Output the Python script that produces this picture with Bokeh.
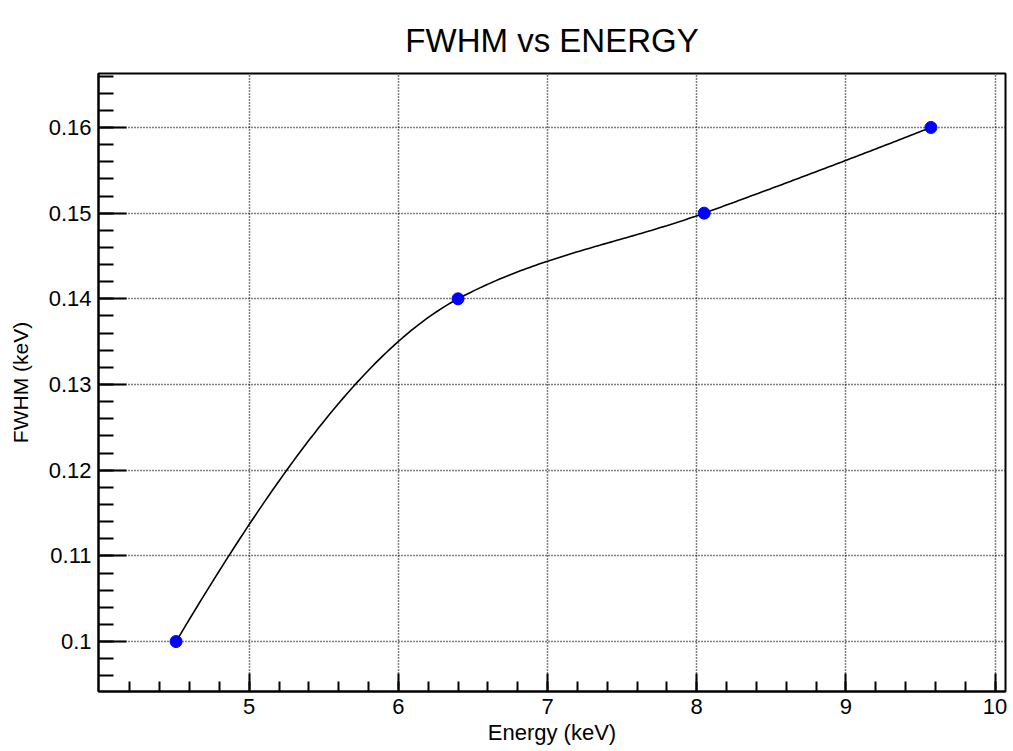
import numpy as np
from bokeh.plotting import figure
from bokeh.models import Range1d, FixedTicker
from bokeh.embed import file_html
from bokeh.resources import INLINE

# Data
energy = [4.51, 6.40, 8.05, 9.57]
fwhm = [0.100, 0.140, 0.150, 0.160]
x_ticks = [5, 6, 7, 8, 9, 10]
y_ticks = [0.10, 0.11, 0.12, 0.13, 0.14, 0.15, 0.16]


def pchip_curve(xs, ys, n=80):
    """Monotone smooth curve drawn through the data points (rendering only)."""
    xs = np.asarray(xs, float)
    ys = np.asarray(ys, float)
    h = np.diff(xs)
    d = np.diff(ys) / h
    k = len(xs)
    m = np.zeros(k)
    for i in range(1, k - 1):
        if d[i - 1] * d[i] > 0:
            w1 = 2 * h[i] + h[i - 1]
            w2 = h[i] + 2 * h[i - 1]
            m[i] = (w1 + w2) / (w1 / d[i - 1] + w2 / d[i])
    m[0] = ((2 * h[0] + h[1]) * d[0] - h[0] * d[1]) / (h[0] + h[1])
    m[-1] = ((2 * h[-1] + h[-2]) * d[-1] - h[-1] * d[-2]) / (h[-1] + h[-2])
    out_x, out_y = [], []
    for i in range(k - 1):
        s = np.linspace(0, 1, n)
        h00 = 2 * s**3 - 3 * s**2 + 1
        h10 = s**3 - 2 * s**2 + s
        h01 = -2 * s**3 + 3 * s**2
        h11 = s**3 - s**2
        out_x.extend(xs[i] + s * h[i])
        out_y.extend(h00 * ys[i] + h10 * h[i] * m[i] + h01 * ys[i + 1] + h11 * h[i] * m[i + 1])
    return out_x, out_y


cx, cy = pchip_curve(energy, fwhm)

p = figure(width=1013, height=751, output_backend="svg", toolbar_location=None,
           x_range=Range1d(3.99, 10.07), y_range=Range1d(0.09417, 0.1663),
           min_border_left=98, min_border_right=8, min_border_top=73,
           min_border_bottom=60, title="FWHM vs ENERGY")

p.title.align = "center"
p.title.text_font = "Liberation Sans"
p.title.text_font_size = "33px"
p.title.text_font_style = "normal"
p.title.text_color = "black"
p.title.standoff = 30

p.background_fill_color = "white"
p.border_fill_color = "white"
p.outline_line_color = "black"
p.outline_line_width = 2

for ax in (p.xaxis[0], p.yaxis[0]):
    ax.axis_line_color = "black"
    ax.axis_line_width = 2
    ax.major_tick_line_color = "black"
    ax.major_tick_line_width = 2
    ax.minor_tick_line_color = "black"
    ax.minor_tick_line_width = 2
    ax.major_tick_out = 0
    ax.minor_tick_out = 0
    ax.major_label_text_font = "Liberation Sans"
    ax.major_label_text_color = "black"
    ax.axis_label_text_font = "Liberation Sans"
    ax.axis_label_text_font_style = "normal"
    ax.axis_label_text_color = "black"

x_minor = [round(v, 1) for v in np.arange(4.2, 10.07, 0.2)]
y_minor = [round(v, 3) for v in np.arange(0.096, 0.1665, 0.002)]
p.xaxis.ticker = FixedTicker(ticks=x_ticks, minor_ticks=x_minor)
p.yaxis.ticker = FixedTicker(ticks=y_ticks, minor_ticks=y_minor)
p.xgrid.ticker = FixedTicker(ticks=x_ticks)
p.ygrid.ticker = FixedTicker(ticks=y_ticks)
p.xaxis.major_tick_in = 18
p.xaxis.minor_tick_in = 10
p.yaxis.major_tick_in = 28
p.yaxis.minor_tick_in = 15
p.xaxis.major_label_text_font_size = "22px"
p.yaxis.major_label_text_font_size = "22px"
p.xaxis.major_label_standoff = 7
p.yaxis.major_label_standoff = 7
p.xaxis.major_label_overrides = {t: str(t) for t in x_ticks}
p.yaxis.major_label_overrides = {t: f"{t:g}" for t in y_ticks}
p.xaxis.axis_label = "Energy (keV)"
p.yaxis.axis_label = "FWHM (keV)"
p.xaxis.axis_label_text_font_size = "22px"
p.yaxis.axis_label_text_font_size = "21px"
p.xaxis.axis_label_standoff = 3
p.yaxis.axis_label_standoff = 14

p.xgrid.grid_line_color = "black"
p.ygrid.grid_line_color = "black"
p.xgrid.grid_line_dash = "1 2"
p.ygrid.grid_line_dash = "1 2"
p.xgrid.grid_line_width = 1.5
p.ygrid.grid_line_width = 1.5

p.line(cx, cy, line_color="black", line_width=1.6)
p.scatter(energy, fwhm, size=12, fill_color="#0000ff", line_color="#0000ff")

open("out.html", "w").write(file_html(p, INLINE))
